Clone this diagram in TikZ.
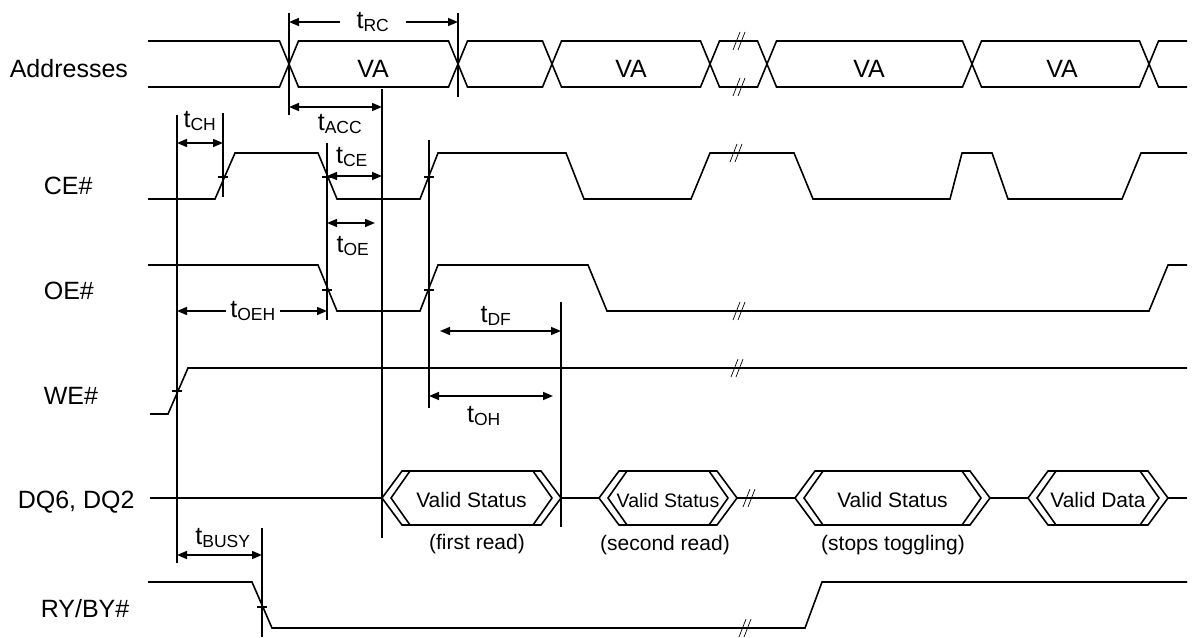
\documentclass[tikz,border=0pt]{standalone}
\usepackage{fontspec}
\setmainfont{Liberation Sans}
\usetikzlibrary{arrows.meta}

% break mark "//" at (x,y)
\newcommand{\brkmark}[2]{%
  \draw[brk] (#1-7,#2+9) -- (#1,#2-9);
  \draw[brk] (#1-2,#2+9) -- (#1+5,#2-9);}

% double edged data box: left x, right x, name, text
\newcommand{\validbox}[4]{%
  \draw (#1,498) -- (#1+20,471) -- (#2-20,471) -- (#2,498) -- (#2-20,525) -- (#1+20,525) -- cycle;
  \draw (#1+28,471) -- (#1+9,498) -- (#1+28,525);
  \draw (#2-28,471) -- (#2-9,498) -- (#2-28,525);
  \node[boxtext] (#3) at ({(#1+#2)/2},507) {#4};}

\begin{document}
\begin{tikzpicture}[x=1pt, y=-1pt, line width=1.6pt, line join=miter,
    every node/.style={font=\fontsize{25}{29}\selectfont, inner sep=1pt},
    siglabel/.style={anchor=base west},
    boxtext/.style={font=\fontsize{21}{25}\selectfont, anchor=base},
    dimarrow/.style={-{Triangle[length=10pt,width=8pt]}},
    dimboth/.style={{Triangle[length=10pt,width=8pt]}-{Triangle[length=10pt,width=8pt]}},
    brk/.style={line width=0.7pt},
    crossmark/.style={line width=1.3pt}]
  \useasboundingbox (0,0) rectangle (1198,637);

  % Signal names
  \node[siglabel] (lAddr) at (8,77) {Addresses};
  \node[siglabel] (lCE) at (42,194) {CE\#};
  \node[siglabel] (lOE) at (42,299) {OE\#};
  \node[siglabel] (lWE) at (42,404) {WE\#};
  \node[siglabel] (lDQ) at (16,508) {DQ6, DQ2};
  \node[siglabel] (lRY) at (39,617) {RY/BY\#};

  % Addresses
  \draw (148,41) -- (279.5,41) -- (298.5,87) -- (448.5,87) -- (467.5,41) -- (542.5,41) -- (561.5,87)
    -- (700.5,87) -- (719.5,41) -- (757.5,41) -- (776.5,87) -- (962.5,87) -- (981.5,41)
    -- (1139.5,41) -- (1158.5,87) -- (1187,87);
  \draw (148,87) -- (279.5,87) -- (298.5,41) -- (448.5,41) -- (467.5,87) -- (542.5,87) -- (561.5,41)
    -- (700.5,41) -- (719.5,87) -- (757.5,87) -- (776.5,41) -- (962.5,41) -- (981.5,87)
    -- (1139.5,87) -- (1158.5,41) -- (1187,41);
  \brkmark{740}{41}
  \brkmark{740}{87}
  \node[anchor=base] (va1) at (373,77) {VA};
  \node[anchor=base] (va2) at (631,77) {VA};
  \node[anchor=base] (va3) at (869,77) {VA};
  \node[anchor=base] (va4) at (1062,77) {VA};

  % CE#
  \draw (148,199) -- (215,199) -- (235,153) -- (318,153) -- (337,199) -- (420,199) -- (438,153)
    -- (566,153) -- (584,199) -- (691,199) -- (710,153) -- (794,153) -- (813,199) -- (950,199)
    -- (962,153) -- (992,153) -- (1008,199) -- (1122,199) -- (1141,153) -- (1187,153);
  \brkmark{737}{153}

  % OE#
  \draw (148,265) -- (318,265) -- (337,311) -- (420,311) -- (438,265) -- (588,265) -- (607,311)
    -- (1149,311) -- (1168,265) -- (1187,265);
  \brkmark{740}{311}

  % WE#
  \draw (150,414) -- (168,414) -- (188,368) -- (1187,368);
  \brkmark{738}{368}

  % DQ6, DQ2
  \draw (150,498) -- (382,498);
  \draw[line width=2.2pt] (561,498) -- (599,498);
  \draw (737,498) -- (795,498);
  \draw (990,498) -- (1028,498);
  \draw (1168,498) -- (1187,498);
  \brkmark{750}{498}
  \validbox{382}{561}{vs1}{Valid Status}
  \validbox{599}{737}{vs2}{\fontsize{19.5}{23}\selectfont Valid Status}
  \validbox{795}{990}{vs3}{Valid Status}
  \validbox{1028}{1168}{vd4}{Valid Data}
  \node[boxtext] (rd1) at (477,549) {(first read)};
  \node[boxtext] (rd2) at (665,550) {(second read)};
  \node[boxtext] (rd3) at (893,550) {(stops toggling)};

  % RY/BY#
  \draw (148,582) -- (252,582) -- (272,628) -- (805,628) -- (822,582) -- (1187,582);
  \brkmark{746}{628}

  % Reference lines
  \draw (177,115) -- (177,563);
  \draw (223,113) -- (223,197);
  \draw (289,13) -- (289,115);
  \draw (458,13) -- (458,97);
  \draw (382,89) -- (382,538);
  \draw (327,143) -- (327,320);
  \draw (429,140) -- (429,408);
  \draw (561,302) -- (561,527);
  \draw (262,528) -- (262,637);

  % Crossing marks
  \foreach \px/\py in {223/177, 327/177, 327/290, 429/177, 429/290, 177/391, 262/607}
    \draw[crossmark] (\px-5,\py) -- (\px+5,\py);

  % Timing parameters
  \node (tRC) [inner xsep=16pt] at (373,22) {t\textsubscript{RC}};
  \coordinate (rcL) at (289,22);
  \coordinate (rcR) at (458,22);
  \draw[dimarrow] (tRC.west) -- (rcL);
  \draw[dimarrow] (tRC.east) -- (rcR);

  \draw[dimboth] (289,107) -- (382,107);
  \node (tACC) at (340,124) {t\textsubscript{ACC}};

  \draw[dimboth] (177,143) -- (223,143);
  \node (tCH) at (200,121) {t\textsubscript{CH}};

  \draw[dimboth] (327,176) -- (382,176);
  \node (tCE) at (352,157) {t\textsubscript{CE}};

  \draw[dimboth] (327,223) -- (375,223);
  \node (tOE) at (353,246) {t\textsubscript{OE}};

  \node (tOEH) [inner xsep=4pt] at (253,311) {t\textsubscript{OEH}};
  \coordinate (oehL) at (177,311);
  \coordinate (oehR) at (327,311);
  \draw[dimarrow] (tOEH.west) -- (oehL);
  \draw[dimarrow] (tOEH.east) -- (oehR);

  \draw[dimboth] (440,331) -- (561,331);
  \node (tDF) at (496,316) {t\textsubscript{DF}};

  \draw[dimboth] (429,396) -- (553,396);
  \node (tOH) at (484,416) {t\textsubscript{OH}};

  \draw[dimboth] (177,555) -- (262,555);
  \node (tBUSY) at (223,538) {t\textsubscript{BUSY}};
\end{tikzpicture}
\end{document}
